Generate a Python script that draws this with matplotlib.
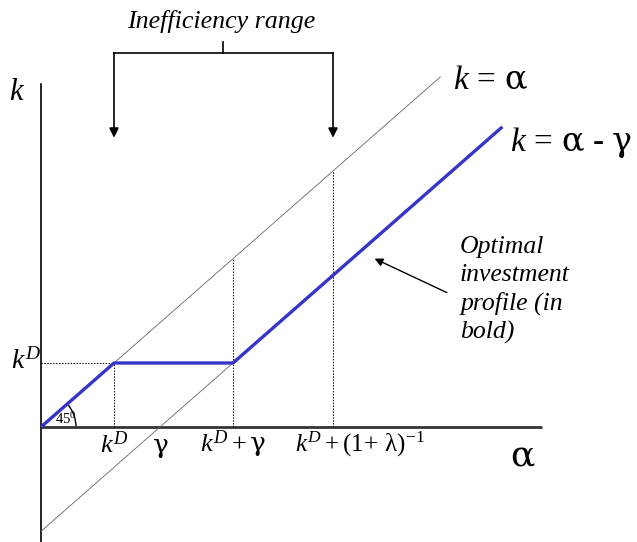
import matplotlib
matplotlib.use("Agg")
import matplotlib.pyplot as plt
from matplotlib.patches import Arc

plt.rcParams['font.family'] = ['Liberation Serif', 'DejaVu Serif']
plt.rcParams['mathtext.fontset'] = 'custom'
plt.rcParams['mathtext.rm'] = 'Liberation Serif'
plt.rcParams['mathtext.it'] = 'Liberation Serif:italic'
plt.rcParams['mathtext.bf'] = 'Liberation Serif:bold'
# Greek letters drawn in a heavier upright serif
plt.rcParams['mathtext.sf'] = 'DejaVu Serif'

# Model parameters (in units of k^D)
kD = 1.0            # threshold investment level
gamma = 1.63        # shift of the lower diagonal
inv_lambda = 3.0    # (1 + lambda)^-1
alpha_end_diag = 5.47
alpha_end_profile = 6.32
alpha_axis_end = 6.86
k_axis_top = 5.36

# Optimal investment profile: k = alpha up to kD, flat at kD, then k = alpha - gamma
profile_alpha = [0.0, kD, kD + gamma, alpha_end_profile]
profile_k = [0.0, kD, kD, alpha_end_profile - gamma]

fig = plt.figure(figsize=(6.37, 5.42), dpi=100)
ax = fig.add_axes([0, 0, 1, 1])
ax.set_xlim(-41 / 73, 596 / 73)
ax.set_ylim(-115 / 64, 427 / 64)
ax.axis('off')

axis_col = '#333333'
thin_col = '#666666'
blue = '#3535c8'
dots = (0, (1.5, 1.5))

# Axes
ax.plot([0, alpha_axis_end], [0, 0], color=axis_col, lw=2.0, solid_capstyle='butt')
ax.plot([0, 0], [-1.9, k_axis_top], color='black', lw=1.2)

# Diagonals k = alpha and k = alpha - gamma
ax.plot([0, alpha_end_diag], [0, alpha_end_diag], color=thin_col, lw=0.6)
ax.plot([0, kD + gamma], [-gamma, kD], color=thin_col, lw=0.6)

# Guide lines
ax.plot([0, kD], [kD, kD], color='black', lw=0.7, ls=dots)
ax.plot([kD, kD], [0, kD], color='black', lw=0.7, ls=dots)
ax.plot([kD + gamma, kD + gamma], [0, kD + gamma], color='black', lw=0.7, ls=dots)
ax.plot([kD + inv_lambda, kD + inv_lambda], [0, kD + inv_lambda], color='black', lw=0.7, ls=dots)

# Optimal profile
ax.plot(profile_alpha, profile_k, color=blue, lw=2.4, solid_capstyle='butt', zorder=5)

# 45 degree arc
ax.add_patch(Arc((0, 0), 2 * 35 / 73, 2 * 35 / 64, theta1=0, theta2=45, color='black', lw=1.0))
ax.text(0.19, 0.04, r'45$^{0}$', fontsize=10.5, ha='left', va='baseline')

# Inefficiency range bracket
yb = 5.84
xl, xr = kD, kD + inv_lambda
xm = (xl + xr) / 2
ax.plot([xl, xr], [yb, yb], color='black', lw=1.2)
ax.plot([xm, xm], [yb, yb + 0.18], color='black', lw=1.2)
for x in (xl, xr):
    ax.annotate('', xy=(x, 4.52), xytext=(x, yb + 0.01),
                arrowprops=dict(arrowstyle='-|>', color='black', lw=1.2,
                                mutation_scale=14, shrinkA=0, shrinkB=0))
ax.text(xm - 0.03, 6.33, 'Inefficiency range', fontsize=18.7, style='italic',
        ha='center', va='center')

# Axis labels
ax.text(-0.33, 5.22, r'$k$', fontsize=22, ha='center', va='center')
ax.text(6.6, -0.47, r'$\mathsf{\alpha}$', fontsize=26, ha='center', va='center')

# Line labels
ax.text(5.65, 5.4, r'$k\,=\,\mathsf{\alpha}$', fontsize=24, ha='left', va='center')
ax.text(6.42, 4.45, r'$k\,=\,\mathsf{\alpha}$ - $\mathsf{\gamma}$', fontsize=24,
        ha='left', va='center')

# Tick-like labels
ax.text(-0.21, kD + 0.03, r'$k^{D}$', fontsize=20, ha='center', va='center')
ax.text(kD, -0.27, r'$k^{D}$', fontsize=19, ha='center', va='center')
ax.text(gamma, -0.33, r'$\mathsf{\gamma}$', fontsize=19, ha='center', va='center')
ax.text(kD + gamma, -0.27, r'$k^{D}+\mathsf{\gamma}$', fontsize=19, ha='center', va='center')
ax.text(3.48, -0.27, r'$k^{D}+(1\!+\,\mathrm{\lambda})^{\mathrm{-1}}$', fontsize=18,
        ha='left', va='center')

# Annotation of the optimal profile
ax.text(5.74, 2.98, 'Optimal\ninvestment\nprofile (in\nbold)', fontsize=18.5,
        style='italic', ha='left', va='top', linespacing=1.33)
ax.annotate('', xy=(4.57, 2.63), xytext=(5.56, 2.1),
            arrowprops=dict(arrowstyle='-|>', color='black', lw=1.0,
                            mutation_scale=12, shrinkA=0, shrinkB=0))

fig.savefig('out.png', dpi=100)
